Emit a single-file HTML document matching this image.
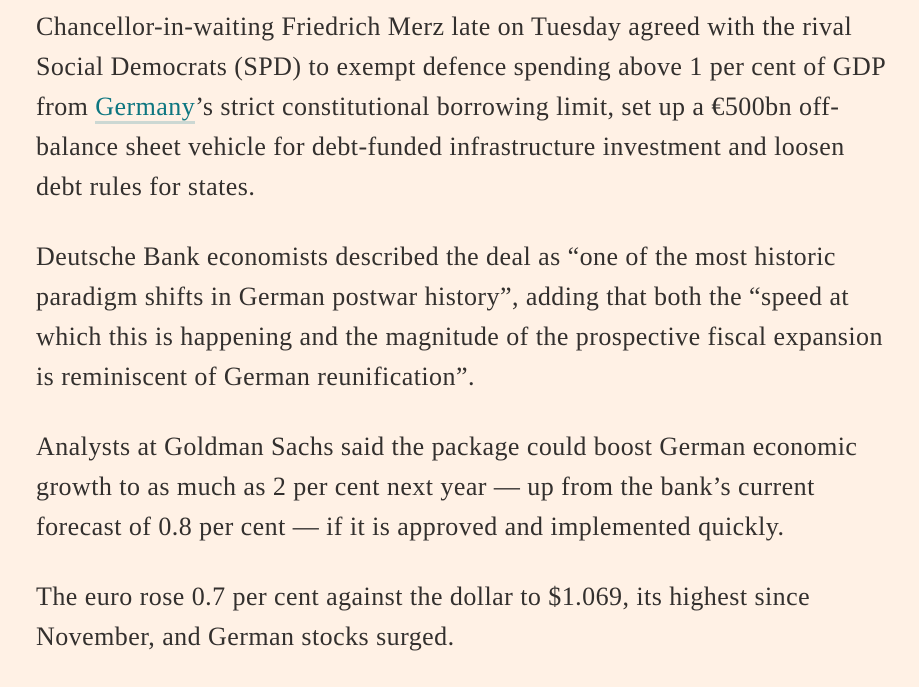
<!DOCTYPE html>
<html><head><meta charset="utf-8">
<style>
html,body{margin:0;padding:0;}
body{width:919px;height:673px;background:#FFF1E5;overflow:hidden;}
.article{position:absolute;left:36px;top:7px;font-family:"Liberation Serif",serif;font-size:26px;line-height:40px;color:#33302E;letter-spacing:0.45px;}
p{margin:0 0 30px 0;white-space:nowrap;}
a{color:#0D7680;text-decoration:none;border-bottom:3px solid #CCD8D3;line-height:1;}
</style></head>
<body>
<div class="article">
<p>Chancellor-in-waiting Friedrich Merz late on Tuesday agreed with the rival<br>Social Democrats (SPD) to exempt defence spending above 1 per cent of GDP<br>from <a href="#">Germany</a>’s strict constitutional borrowing limit, set up a €500bn off-<br>balance sheet vehicle for debt-funded infrastructure investment and loosen<br>debt rules for states.</p>
<p>Deutsche Bank economists described the deal as “one of the most historic<br>paradigm shifts in German postwar history”, adding that both the “speed at<br>which this is happening and the magnitude of the prospective fiscal expansion<br>is reminiscent of German reunification”.</p>
<p>Analysts at Goldman Sachs said the package could boost German economic<br>growth to as much as 2 per cent next year — up from the bank’s current<br>forecast of 0.8 per cent — if it is approved and implemented quickly.</p>
<p>The euro rose 0.7 per cent against the dollar to $1.069, its highest since<br>November, and German stocks surged.</p>
</div>
</body></html>
